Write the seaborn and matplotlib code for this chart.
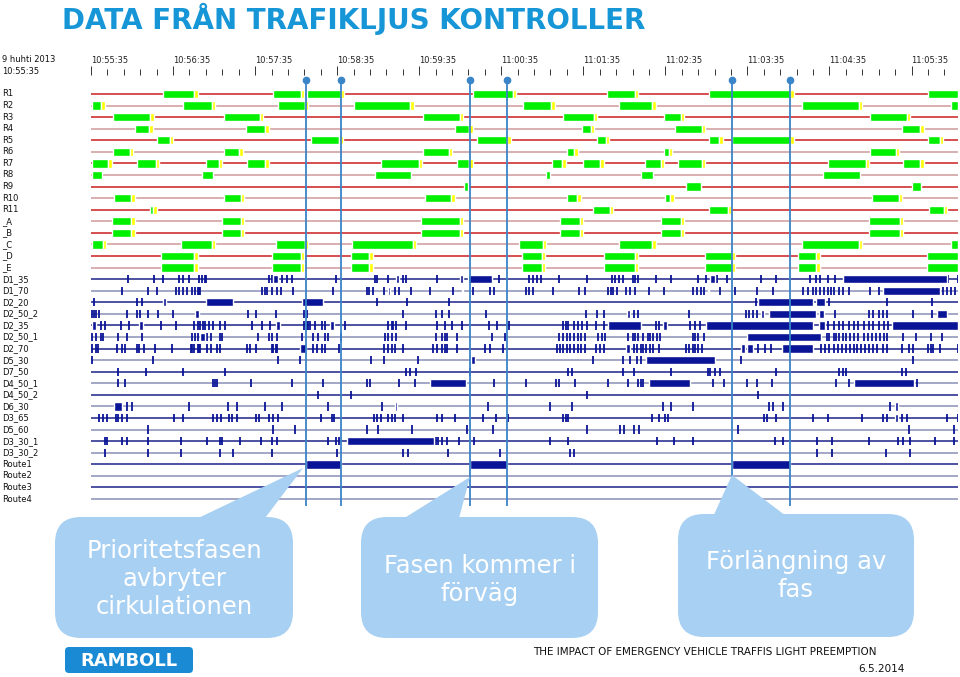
import matplotlib
matplotlib.use("Agg")
import matplotlib.pyplot as plt
from matplotlib.patches import FancyBboxPatch, Polygon
from matplotlib.transforms import blended_transform_factory
import seaborn as sns

sns.set_theme(style="white")
plt.rcParams['font.family'] = ['DejaVu Sans']

# time axis, seconds after 10:55:35 (9 huhti 2013)
T_END = 634
TICK_SECONDS = [0, 60, 120, 180, 240, 300, 360, 420, 480, 540, 600]
TICK_LABELS = ["10:55:35", "10:56:35", "10:57:35", "10:58:35", "10:59:35", "11:00:35",
               "11:01:35", "11:02:35", "11:03:35", "11:04:35", "11:05:35"]

# signal groups: green periods (start, end) in seconds, amber at the end
SIGNAL_ROWS = ["R1", "R2", "R3", "R4", "R5", "R6", "R7", "R8", "R9", "R10", "R11",
               "_A", "_B", "_C", "_D", "_E"]
GREEN = {
    "R1": [(53, 78), (133, 156), (158, 185), (279, 311), (377, 400), (452, 514), (612, 634)],
    "R2": [(1, 10), (67, 91), (137, 159), (192, 236), (316, 339), (386, 413), (520, 564), (629, 634)],
    "R3": [(16, 46), (97, 126), (243, 272), (345, 370), (419, 434), (570, 599)],
    "R4": [(32, 45), (113, 130), (266, 279), (359, 368), (427, 449), (593, 609)],
    "R5": [(48, 60), (161, 184), (282, 307), (370, 379), (452, 462), (469, 514), (612, 623)],
    "R6": [(16, 31), (97, 111), (243, 264), (348, 356), (419, 425), (570, 591)],
    "R7": [(1, 15), (34, 50), (84, 96), (114, 130), (212, 242), (268, 279), (337, 347),
           (360, 375), (405, 419), (429, 449), (539, 569), (594, 609)],
    "R8": [(1, 8), (81, 89), (208, 234), (333, 336), (402, 411), (535, 562)],
    "R9": [(273, 276), (435, 446), (600, 607)],
    "R10": [(17, 32), (97, 112), (244, 266), (348, 358), (420, 426), (571, 593)],
    "R11": [(43, 48), (367, 382), (452, 468), (613, 626)],
    "_A": [(15, 32), (96, 112), (241, 272), (343, 360), (417, 434), (569, 594)],
    "_B": [(15, 32), (96, 112), (241, 272), (343, 360), (417, 434), (569, 594)],
    "_C": [(1, 11), (66, 91), (135, 159), (191, 238), (313, 333), (386, 413), (520, 564), (629, 634)],
    "_D": [(51, 78), (132, 156), (190, 206), (315, 332), (375, 400), (449, 471), (517, 533), (611, 634)],
    "_E": [(51, 78), (132, 156), (190, 206), (315, 332), (375, 400), (449, 471), (517, 533), (611, 634)],
}
NO_AMBER = ["R8", "R9"]
AMBER_S = 2.5

# detectors: short pulses (start seconds) and longer occupancies (start, end)
DETECTOR_ROWS = ["D1_35", "D1_70", "D2_20", "D2_50_2", "D2_35", "D2_50_1", "D2_70", "D5_30",
                 "D7_50", "D4_50_1", "D4_50_2", "D6_30", "D3_65", "D5_60", "D3_30_1", "D3_30_2"]
PULSES = {
    "D1_35": [27, 46, 53, 64, 67, 72, 79, 81, 83, 84, 130, 132, 140, 143, 147, 179, 208, 209, 217,
              228, 230, 253, 298, 320, 323, 326, 329, 342, 363, 381, 383, 386, 389, 396, 398, 400,
              413, 424, 444, 450, 458, 465, 490, 501, 526, 530, 533, 539, 544, 627, 634],
    "D1_70": [23, 42, 48, 62, 64, 67, 70, 74, 76, 78, 79, 80, 125, 127, 129, 132, 136, 139, 148,
              177, 202, 203, 206, 214, 222, 225, 234, 248, 265, 279, 292, 295, 318, 320, 323, 338,
              357, 361, 378, 380, 382, 385, 391, 394, 398, 408, 419, 440, 443, 446, 448, 460, 471,
              487, 499, 521, 524, 528, 530, 533, 536, 539, 541, 543, 547, 550, 554, 570, 576, 623,
              626, 629, 632],
    "D2_20": [2, 34, 37, 209, 231, 262, 486, 540, 582, 615],
    "D2_50_2": [1, 2, 4, 6, 26, 34, 36, 42, 49, 60, 115, 121, 135, 156, 158, 228, 252, 257, 262,
                289, 362, 370, 375, 397, 400, 437, 479, 481, 484, 487, 544, 569, 572, 576, 579,
                582, 601, 615],
    "D2_35": [7, 10, 22, 28, 51, 62, 75, 78, 80, 82, 83, 86, 89, 94, 98, 118, 125, 131, 156, 158,
              159, 160, 164, 169, 171, 186, 217, 220, 221, 223, 230, 253, 259, 264, 271, 291, 297,
              306, 345, 347, 349, 353, 356, 359, 363, 369, 375, 413, 415, 438, 442, 445, 539, 543,
              547, 550, 554, 558, 561, 565, 569, 572, 576, 580, 583],
    "D2_50_1": [1, 4, 7, 9, 20, 26, 37, 74, 76, 78, 85, 88, 94, 96, 122, 130, 132, 136, 154, 162,
                166, 171, 173, 183, 215, 217, 220, 223, 252, 257, 259, 260, 268, 293, 303, 342,
                345, 348, 350, 353, 356, 358, 361, 371, 374, 376, 393, 396, 398, 400, 404, 407,
                409, 411, 414, 416, 440, 442, 444, 448, 538, 540, 543, 545, 547, 550, 552, 555,
                558, 561, 565, 568, 571, 574, 577, 580, 582, 594, 603, 614, 622],
    "D2_70": [1, 4, 5, 19, 23, 25, 34, 35, 39, 47, 59, 73, 74, 75, 78, 79, 80, 85, 88, 92, 94,
              114, 116, 121, 132, 133, 135, 136, 162, 165, 169, 171, 181, 214, 217, 220, 222, 228,
              250, 253, 257, 259, 260, 268, 288, 292, 301, 341, 343, 345, 348, 350, 353, 356, 358,
              361, 369, 372, 375, 394, 397, 399, 402, 404, 406, 409, 411, 415, 435, 437, 440, 442,
              444, 447, 488, 493, 497, 534, 537, 540, 543, 546, 549, 552, 555, 558, 560, 563, 566,
              569, 572, 575, 579, 582, 593, 598, 601, 612, 614, 616, 621, 634],
    "D5_30": [1, 45, 137, 153, 205, 214, 239, 367, 389, 394, 399, 402, 475, 601],
    "D7_50": [20, 40, 67, 98, 230, 233, 238, 277, 349, 352, 389, 397, 424, 451, 453, 456, 460,
              501, 547, 550, 552, 593, 596],
    "D4_50_1": [20, 25, 89, 91, 92, 117, 147, 170, 202, 204, 225, 237, 295, 318, 340, 342, 354,
                378, 393, 400, 402, 404, 455, 463, 480, 487, 498, 545, 554, 604],
    "D4_50_2": [166, 190, 363, 488],
    "D6_30": [26, 30, 72, 100, 107, 127, 140, 173, 213, 290, 336, 352, 418, 424, 440, 496, 499,
              506, 584],
    "D3_65": [6, 9, 12, 18, 20, 23, 26, 61, 67, 89, 92, 95, 101, 103, 107, 121, 123, 130, 133,
              137, 168, 176, 178, 207, 209, 212, 217, 220, 222, 228, 253, 257, 266, 287, 296, 305,
              345, 347, 349, 410, 415, 420, 422, 492, 494, 501, 528, 539, 564, 579, 582, 593, 597,
              626, 634],
    "D5_60": [42, 133, 149, 202, 210, 235, 275, 294, 363, 387, 390, 397, 401, 473, 598, 631],
    "D3_30_1": [10, 12, 23, 26, 42, 66, 85, 94, 96, 109, 124, 132, 136, 173, 179, 181, 252, 254,
                257, 260, 269, 280, 336, 349, 414, 426, 440, 500, 506, 531, 542, 569, 590, 594,
                599, 617, 631],
    "D3_30_2": [10, 42, 66, 94, 104, 132, 180, 228, 232, 261, 299, 350, 353, 531, 542, 581, 599],
}
BLOCKS = {
    "D1_35": [(133, 137), (223, 225), (270, 272), (276, 293), (453, 456), (550, 626)],
    "D1_70": [(217, 219), (271, 272), (451, 452), (579, 621)],
    "D2_20": [(53, 55), (84, 104), (154, 170), (488, 528), (530, 537)],
    "D2_50_2": [(76, 79), (392, 394), (490, 492), (496, 530), (532, 536), (619, 626)],
    "D2_35": [(1, 4), (35, 38), (135, 138), (175, 178), (378, 402), (418, 421), (450, 528),
              (532, 537), (586, 634)],
    "D2_50_1": [(80, 83), (480, 534)],
    "D2_70": [(153, 157), (391, 394), (475, 478), (480, 484), (505, 528)],
    "D5_30": [(278, 281), (406, 456)],
    "D4_50_1": [(248, 274), (408, 438), (558, 602)],
    "D6_30": [(17, 23), (222, 224), (588, 590)],
    "D3_65": [(588, 590)],
    "D3_30_1": [(187, 251)],
}

ROUTE_ROWS = ["Route1", "Route2", "Route3", "Route4"]
ROUTE_BLOCKS = {"Route1": [(157, 183), (277, 304), (469, 511)]}

# priority request markers
EVENT_TIMES = [157, 183, 277, 304, 469, 511]

CALLOUTS = ["Prioritetsfasen\navbryter\ncirkulationen", "Fasen kommer i\nförväg", "Förlängning av\nfas"]

RED, PINK = "#cc1f1f", "#cf9a9a"
NAVY, GREYBLUE = "#1b2387", "#8a8fb8"
MARK = "#0a1496"
GREEN_C, AMBER_C = "#00f000", "#ffff00"
EVENT_C = "#3a84c8"
BUBBLE_C = "#a8d0f2"

fig = plt.figure(figsize=(9.6, 6.77), dpi=100)
ax = fig.add_axes([91 / 960, 171 / 677, 867 / 960, 431 / 677])
rows = SIGNAL_ROWS + DETECTOR_ROWS + ROUTE_ROWS
n = len(rows)
H = 0.36

for i, name in enumerate(SIGNAL_ROWS):
    ax.plot([0, T_END], [i, i], color=RED if i % 2 == 0 else PINK, lw=1.1, zorder=1)
    greens, ambers = [], []
    for s, e in GREEN[name]:
        if name in NO_AMBER or e >= T_END - 1:
            greens.append((s, e - s))
        else:
            greens.append((s, e - s - AMBER_S))
            ambers.append((e - AMBER_S, AMBER_S))
    ax.broken_barh(greens, (i - H, 2 * H), facecolors=GREEN_C, zorder=2)
    if ambers:
        ax.broken_barh(ambers, (i - H, 2 * H), facecolors=AMBER_C, zorder=2)

off = len(SIGNAL_ROWS)
for j, name in enumerate(DETECTOR_ROWS + ROUTE_ROWS):
    i = off + j
    ax.plot([0, T_END], [i, i], color=NAVY if j % 2 == 0 else GREYBLUE, lw=1.1, zorder=1)
    pulses = PULSES.get(name, [])
    if pulses:
        ax.vlines(pulses, i - H, i + H, colors=MARK, lw=1.3, zorder=2)
    blocks = [(s, e - s) for s, e in BLOCKS.get(name, []) + ROUTE_BLOCKS.get(name, [])]
    if blocks:
        ax.broken_barh(blocks, (i - H, 2 * H), facecolors=MARK, zorder=2)

y_top = -1.64
ax.vlines(EVENT_TIMES, y_top + 0.43, n - 0.4, colors=EVENT_C, lw=1.3, zorder=4)
ax.plot(EVENT_TIMES, [y_top + 0.43] * len(EVENT_TIMES), "o", color=EVENT_C, ms=4.5, zorder=5,
        clip_on=False)

ax.set_xlim(0, T_END)
ax.set_ylim(n - 0.4, y_top)
ax.set_yticks([])
for sp in ax.spines.values():
    sp.set_visible(False)
ax.xaxis.set_ticks_position("top")
ax.set_xticks(TICK_SECONDS)
ax.set_xticklabels(TICK_LABELS, ha="left", fontsize=6, color="#222222")
ax.set_xticks(range(0, T_END, 12), minor=True)
ax.tick_params(axis="x", which="major", direction="out", length=6.5, width=0.7, color="#333333", pad=1)
ax.tick_params(axis="x", which="minor", direction="out", length=4.3, width=0.7, color="#333333")

trans = blended_transform_factory(fig.transFigure, ax.transData)
for i, name in enumerate(rows):
    ax.text(2 / 960, i, name, transform=trans, fontsize=6, ha="left", va="center", color="#111111")

# overlay in pixel coordinates for title, callouts and footer
ov = fig.add_axes([0, 0, 1, 1])
ov.set_xlim(0, 960)
ov.set_ylim(677, 0)
ov.axis("off")
ov.patch.set_alpha(0)

ov.text(2, 60, "9 huhti 2013", fontsize=6, va="center", ha="left", color="#111111")
ov.text(2, 72, "10:55:35", fontsize=6, va="center", ha="left", color="#111111")
ov.text(62, 19, "DATA FRÅN TRAFIKLJUS KONTROLLER", fontsize=20, fontweight="bold",
        color="#1696d6", ha="left", va="center")

# (box x, y, w, h), pointer triangle, text centre
bubbles = [
    ((55, 517, 238, 121), [(190, 522), (262, 522), (303, 468)], (174, 579)),
    ((361, 517, 237, 121), [(398, 522), (458, 522), (470, 477)], (480, 580)),
    ((678, 514, 236, 123), [(712, 519), (790, 519), (732, 475)], (796, 576)),
]
for (rect, tri, (tx, ty)), label in zip(bubbles, CALLOUTS):
    bx, by, bw, bh = rect
    ov.add_patch(FancyBboxPatch((bx, by), bw, bh, boxstyle="round,pad=0,rounding_size=26",
                                facecolor=BUBBLE_C, edgecolor="none", zorder=6))
    ov.add_patch(Polygon(tri, closed=True, facecolor=BUBBLE_C, edgecolor="none", zorder=6))
    ov.text(tx, ty, label, fontsize=17.5, color="white", ha="center", va="center",
            linespacing=1.2, zorder=7)

ov.add_patch(FancyBboxPatch((65, 647), 128, 26, boxstyle="round,pad=0,rounding_size=4",
                            facecolor="#1a8ad4", edgecolor="none", zorder=6))
ov.text(129, 660.5, "RAMBOLL", fontsize=13, fontweight="bold", color="white",
        ha="center", va="center", zorder=7)

ov.text(533, 652, "THE IMPACT OF EMERGENCY VEHICLE TRAFFIS LIGHT PREEMPTION", fontsize=7.5,
        color="#111111", ha="left", va="center")
ov.text(905, 669, "6.5.2014", fontsize=7.5, color="#111111", ha="right", va="center")

fig.savefig("out.png", dpi=100)
